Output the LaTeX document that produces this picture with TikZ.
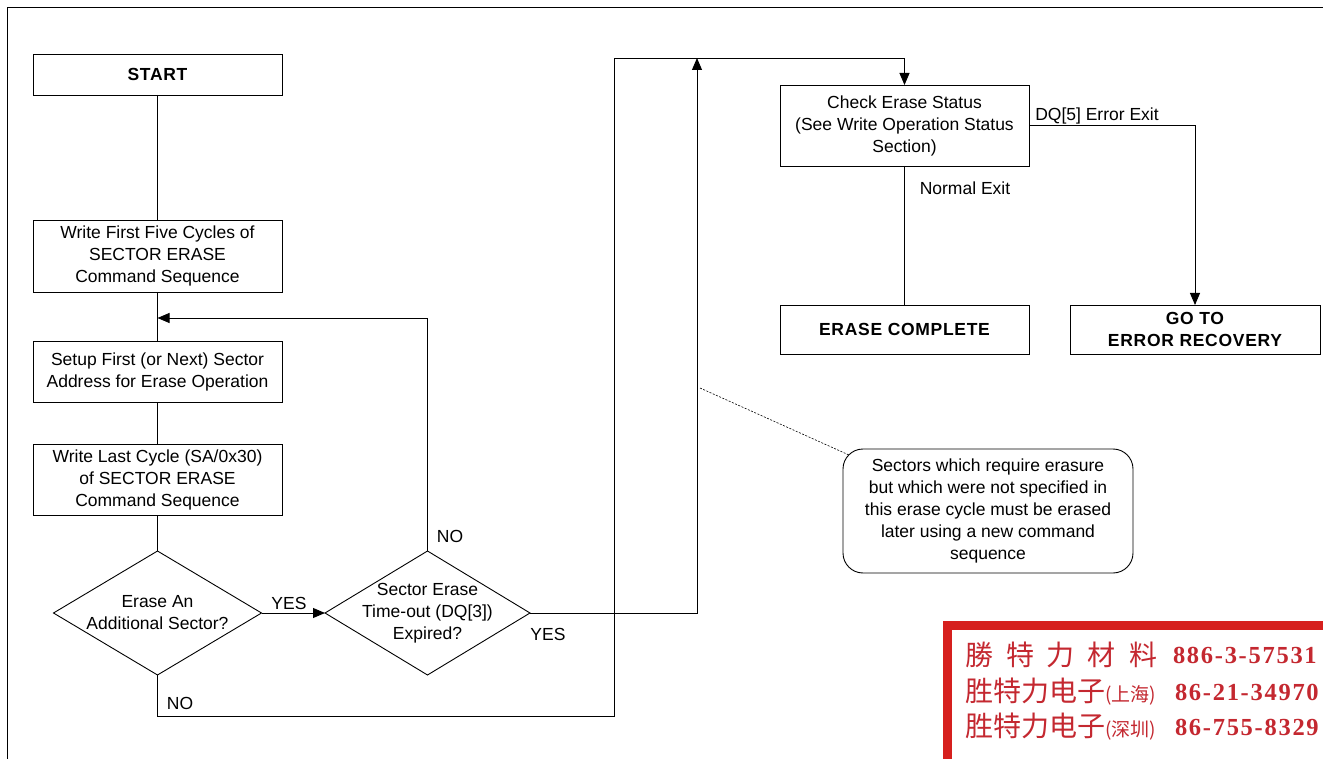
\documentclass[tikz,border=0pt]{standalone}
\usepackage{fontspec}
\setmainfont{Liberation Sans}
\newfontfamily\boldsans{Liberation Sans}[LetterSpace=4]
\newfontfamily\cjk{Noto Sans CJK SC}
\newfontfamily\serifnum{Liberation Serif}[LetterSpace=7]
\usetikzlibrary{arrows.meta,shapes.geometric,calc}
\definecolor{stampred}{RGB}{214,32,30}
\definecolor{stamptext}{RGB}{196,40,48}
\tikzset{
  x=1pt,y=-1pt,
  every node/.style={inner sep=0pt, outer sep=0pt},
  txt/.style={font=\fontsize{17.5}{22}\selectfont, align=center},
  boldtxt/.style={font=\boldsans\bfseries\fontsize{17.5}{22}\selectfont, align=center},
  box/.style={draw, line width=0.9pt, txt, minimum width=249pt},
  boldbox/.style={box, boldtxt},
  dia/.style={draw, diamond, line width=0.9pt, minimum height=124pt},
  line/.style={line width=0.9pt},
  arr/.style={line width=0.9pt, -{Triangle[length=12pt,width=10pt]}},
  lbl/.style={txt},
  note/.style={draw, line width=0.9pt, rounded corners=20pt, txt, minimum width=290pt, minimum height=124pt},
  leader/.style={line width=0.6pt, dash pattern=on 2pt off 1.5pt},
  stampcjk/.style={anchor=west, text=stamptext, font=\cjk\fontsize{28}{28}\selectfont},
  stampnum/.style={anchor=west, text=stamptext, font=\serifnum\bfseries\fontsize{24.5}{25}\selectfont},
}
\begin{document}
\begin{tikzpicture}
\useasboundingbox (0,0) rectangle (1323,759);
\fill[white] (0,0) rectangle (1323,759);
% frame
\draw[line] (7,759) -- (7,7) -- (1323,7);

% left column
\node[boldbox, minimum height=41pt] (start) at (157.5,74.5) {START};
\node[box, minimum height=72pt] (w5) at (157.5,256) {Write First Five Cycles of\\SECTOR ERASE\\Command Sequence};
\node[box, minimum height=61pt] (setup) at (157.5,371.5) {Setup First (or Next) Sector\\Address for Erase Operation};
\node[box, minimum height=71pt] (wlast) at (157.5,479.5) {Write Last Cycle (SA/0x30)\\of SECTOR ERASE\\Command Sequence};
\node[dia, minimum width=208pt] (d1) at (157.5,613) {};
\node[txt] (d1t) at (d1) {Erase An\\Additional Sector?};
\node[dia, minimum width=205pt] (d2) at (427.5,613) {};
\node[txt] (d2t) at (d2) {Sector Erase\\Time-out (DQ[3])\\Expired?};

% right part
\node[box, minimum height=81pt] (check) at (904.5,125.5) {Check Erase Status\\(See Write Operation Status\\Section)};
\node[boldbox, minimum height=49pt] (done) at (904.5,329.5) {ERASE COMPLETE};
\node[boldbox, minimum width=250pt, minimum height=49pt] (err) at (1195,329.5) {GO TO\\ERROR RECOVERY};
\node[note] (note) at (988,511) {Sectors which require erasure\\but which were not specified in\\this erase cycle must be erased\\later using a new command\\sequence};

% coordinates
\coordinate (j1) at (157.5,318);
\coordinate (top1) at (697,58);
\coordinate (lowy) at (614,716);
\coordinate (topx) at (614,58);
\coordinate (lead) at (700,388);

% connectors
\draw[line] (start) -- (w5);
\draw[line] (w5) -- (setup);
\draw[arr] (d2.north) |- (j1);
\draw[line] (setup) -- (wlast);
\draw[line] (wlast) -- (d1);
\draw[arr] (d1.east) -- (d2.west);
\draw[arr] (d2.east) -| (top1);
\draw[arr] (d1.south) |- (lowy) -- (topx) -| (check.north);
\draw[line] (check) -- (done);
\draw[arr] (check.east) -| (err.north);
\draw[leader] (lead) -- ($(note.north west)+(6,6)$);

% labels
\node[lbl] (yes1) at (289,603) {YES};
\node[lbl] (no2) at (450,536) {NO};
\node[lbl] (yes2) at (548,634) {YES};
\node[lbl] (no1) at (180,703) {NO};
\node[lbl] (normal) at (965,188) {Normal Exit};
\node[lbl] (dq5) at (1097,116) {DQ[5] Error Exit};

% stamp
\begin{scope}
\clip (0,0) rectangle (1323,759);
\fill[stampred] (943,621) rectangle (1345,775);
\fill[white] (952,630) rectangle (1345,775);
\node[stampcjk] (s1) at (965,655) {勝\hspace{13pt}特\hspace{13pt}力\hspace{13pt}材\hspace{13pt}料};
\node[stampnum] (n1) at (1173,655) {886-3-57531};
\node[stampcjk] (s2) at (965,692) {胜特力电子{\fontsize{19}{19}\selectfont(上海)}};
\node[stampnum] (n2) at (1175,692) {86-21-34970};
\node[stampcjk] (s3) at (965,727) {胜特力电子{\fontsize{19}{19}\selectfont(深圳)}};
\node[stampnum] (n3) at (1175,727) {86-755-8329};
\end{scope}
\end{tikzpicture}
\end{document}
